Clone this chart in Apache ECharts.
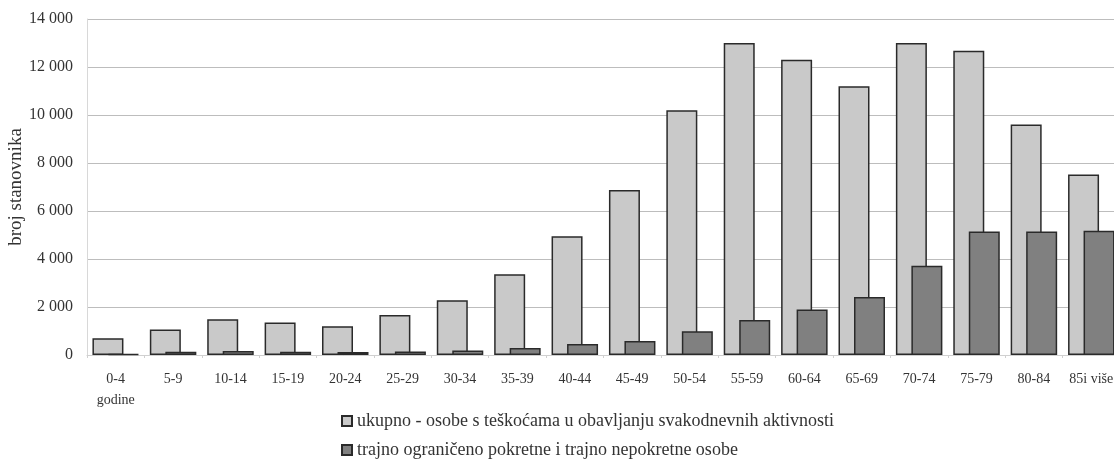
<!DOCTYPE html>
<html>
<head>
<meta charset="utf-8">
<style>
html,body{margin:0;padding:0;background:#fff;}
#chart{width:1114px;height:461px;}
</style>
<script src="https://cdn.jsdelivr.net/npm/echarts@6/dist/echarts.min.js"></script>
</head>
<body>
<div id="chart"></div>
<script>
const categories = ['0-4\ngodine','5-9','10-14','15-19','20-24','25-29','30-34','35-39','40-44','45-49','50-54','55-59','60-64','65-69','70-74','75-79','80-84','85i više'];
const ukupno = [700, 1060, 1490, 1350, 1200, 1670, 2280, 3360, 4950, 6870, 10200, 13000, 12300, 11200, 13000, 12680, 9600, 7520];
const trajno = [40, 140, 165, 140, 130, 150, 190, 290, 455, 580, 990, 1460, 1900, 2420, 3720, 5150, 5150, 5180];
const seriesNames = ['ukupno - osobe s teškoćama u obavljanju svakodnevnih aktivnosti', 'trajno ograničeno pokretne i trajno nepokretne osobe'];
const yAxisName = 'broj stanovnika';

const FONT = '"Liberation Serif", "DejaVu Serif", serif';
const legendBase = {
  left: 336, itemWidth: 10, itemHeight: 10, itemGap: 4,
  textStyle: { fontFamily: FONT, fontSize: 18, color: '#333' }
};
const chart = echarts.init(document.getElementById('chart'));
chart.setOption({
  animation: false,
  backgroundColor: '#fff',
  textStyle: { fontFamily: FONT },
  grid: { left: 87, top: 19, height: 336, width: 1033, containLabel: false, outerBoundsMode: 'none' },
  legend: [
    Object.assign({}, legendBase, { top: 407, data: [{ name: seriesNames[0], icon: 'rect' }] }),
    Object.assign({}, legendBase, { top: 436, data: [{ name: seriesNames[1], icon: 'rect' }] })
  ],
  xAxis: {
    type: 'category', data: categories,
    axisLine: { show: true, lineStyle: { color: '#d0d0d0', width: 1 } },
    axisTick: { show: true, length: 3, lineStyle: { color: '#d0d0d0' } },
    axisLabel: { fontFamily: FONT, fontSize: 14, color: '#333', margin: 14, lineHeight: 21, interval: 0 }
  },
  yAxis: {
    type: 'value', min: 0, max: 14000, interval: 2000,
    name: yAxisName, nameLocation: 'middle', nameGap: 61, nameRotate: 90, nameMoveOverlap: false,
    nameTextStyle: { fontFamily: FONT, fontSize: 19, color: '#333' },
    axisLine: { show: true, lineStyle: { color: '#d8d8d8' } },
    axisTick: { show: false },
    splitLine: { lineStyle: { color: '#bdbdbd', width: 1 } },
    axisLabel: {
      fontFamily: FONT, fontSize: 16, color: '#333', margin: 14,
      formatter: v => String(v).replace(/\B(?=(\d{3})+(?!\d))/g, ' ')
    }
  },
  series: [
    {
      name: seriesNames[0], type: 'bar', data: ukupno,
      barWidth: 31, barGap: '-50%',
      itemStyle: { color: '#c9c9c9', borderColor: '#2a2a2a', borderWidth: 1.5 }
    },
    {
      name: seriesNames[1], type: 'bar', data: trajno,
      barWidth: 31,
      itemStyle: { color: '#808080', borderColor: '#2a2a2a', borderWidth: 1.5 }
    }
  ]
});
</script>
</body>
</html>
